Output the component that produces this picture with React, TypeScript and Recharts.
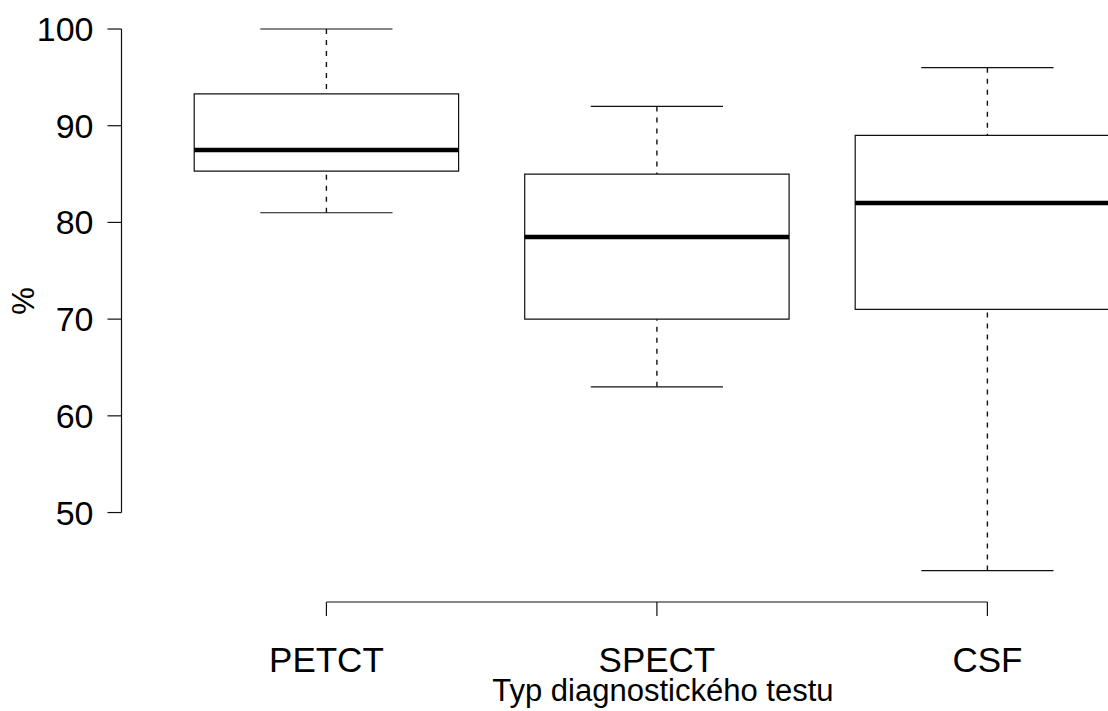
import {
  ComposedChart,
  XAxis,
  YAxis,
  ReferenceArea,
  ReferenceLine,
} from "recharts";

const FONT = "'Liberation Sans', Arial, Helvetica, sans-serif";
const INK = "#111";

// boxplot stats
const categories = ["PETCT", "SPECT", "CSF"];
const whiskerLow = [81, 63, 44];
const quartile1 = [85.3, 70, 71];
const medians = [87.5, 78.5, 82];
const quartile3 = [93.3, 85, 89];
const whiskerHigh = [100, 92, 96];

const yTicks = [50, 60, 70, 80, 90, 100];
const xTicks = [1, 2, 3];

const Y_DOMAIN: [number, number] = [40.75, 103];
const X_DOMAIN: [number, number] = [0.38, 3.62];
const BOX_HALF = 0.4;
const CAP_HALF = 0.2;

const boxes = categories.map((name, i) => ({
  x: i + 1,
  name,
  min: whiskerLow[i],
  q1: quartile1[i],
  median: medians[i],
  q3: quartile3[i],
  max: whiskerHigh[i],
}));

const PercentLabel = (props: any) => {
  const vb = props.viewBox || { x: 0, y: 0, width: 121, height: 602 };
  const cx = vb.x + 23;
  const cy = vb.y + vb.height / 2;
  return (
    <text
      x={cx}
      y={cy}
      transform={`rotate(-90, ${cx}, ${cy})`}
      textAnchor="middle"
      dominantBaseline="central"
      fontSize={31}
      fontFamily={FONT}
      fill="#000"
    >
      %
    </text>
  );
};

const XTitle = (props: any) => {
  const vb = props.viewBox || { x: 121.5, y: 602, width: 1071, height: 109 };
  return (
    <text
      x={vb.x + vb.width / 2 + 6}
      y={vb.y + vb.height - 10.5}
      textAnchor="middle"
      fontSize={31}
      fontFamily={FONT}
      fill="#000"
    >
      Typ diagnostického testu
    </text>
  );
};

export default function App() {
  return (
    <div
      style={{
        position: "absolute",
        left: 0,
        top: 0,
        width: 1108,
        height: 711,
        overflow: "hidden",
        background: "#fff",
      }}
    >
      <ComposedChart
        width={1200}
        height={711}
        data={boxes}
        margin={{ top: 0, right: 7.7, left: 0.5, bottom: 0 }}
      >
        <XAxis
          dataKey="x"
          type="number"
          domain={X_DOMAIN}
          ticks={xTicks}
          interval={0}
          allowDataOverflow
          axisLine={false}
          tickLine={{ stroke: INK, strokeWidth: 1.2 }}
          tickSize={14}
          tickMargin={31}
          height={109}
          tickFormatter={(v: number) => categories[v - 1] ?? ""}
          tick={{ fontSize: 35, fill: "#000", fontFamily: FONT }}
          label={<XTitle />}
        />
        <YAxis
          type="number"
          domain={Y_DOMAIN}
          ticks={yTicks}
          interval={0}
          allowDataOverflow
          width={121}
          axisLine={false}
          tickLine={{ stroke: INK, strokeWidth: 1.2 }}
          tickSize={14}
          tickMargin={14}
          tick={{ fontSize: 34, fill: "#000", fontFamily: FONT }}
          label={<PercentLabel />}
        />

        {/* R style axis lines: only span first to last tick */}
        <ReferenceLine
          segment={[
            { x: X_DOMAIN[0], y: yTicks[0] },
            { x: X_DOMAIN[0], y: yTicks[yTicks.length - 1] },
          ]}
          stroke={INK}
          strokeWidth={1.2}
          ifOverflow="visible"
        />
        <ReferenceLine
          segment={[
            { x: xTicks[0], y: Y_DOMAIN[0] },
            { x: xTicks[xTicks.length - 1], y: Y_DOMAIN[0] },
          ]}
          stroke={INK}
          strokeWidth={1.2}
          ifOverflow="visible"
        />

        {/* whiskers (dashed) and staples */}
        {boxes.map((b) => [
          <ReferenceLine
            key={`wu-${b.name}`}
            segment={[
              { x: b.x, y: b.max },
              { x: b.x, y: b.q3 },
            ]}
            stroke={INK}
            strokeWidth={1.4}
            strokeDasharray="5 6"
            ifOverflow="visible"
          />,
          <ReferenceLine
            key={`wl-${b.name}`}
            segment={[
              { x: b.x, y: b.min },
              { x: b.x, y: b.q1 },
            ]}
            stroke={INK}
            strokeWidth={1.4}
            strokeDasharray="5 6"
            ifOverflow="visible"
          />,
          <ReferenceLine
            key={`cu-${b.name}`}
            segment={[
              { x: b.x - CAP_HALF, y: b.max },
              { x: b.x + CAP_HALF, y: b.max },
            ]}
            stroke={INK}
            strokeWidth={1.2}
            ifOverflow="visible"
          />,
          <ReferenceLine
            key={`cl-${b.name}`}
            segment={[
              { x: b.x - CAP_HALF, y: b.min },
              { x: b.x + CAP_HALF, y: b.min },
            ]}
            stroke={INK}
            strokeWidth={1.2}
            ifOverflow="visible"
          />,
        ])}

        {/* boxes */}
        {boxes.map((b) => (
          <ReferenceArea
            key={`box-${b.name}`}
            x1={b.x - BOX_HALF}
            x2={b.x + BOX_HALF}
            y1={b.q1}
            y2={b.q3}
            fill="#fff"
            fillOpacity={1}
            stroke={INK}
            strokeWidth={1.2}
            ifOverflow="visible"
          />
        ))}

        {/* medians */}
        {boxes.map((b) => (
          <ReferenceLine
            key={`med-${b.name}`}
            segment={[
              { x: b.x - BOX_HALF, y: b.median },
              { x: b.x + BOX_HALF, y: b.median },
            ]}
            stroke="#000"
            strokeWidth={4.5}
            ifOverflow="visible"
          />
        ))}
      </ComposedChart>
    </div>
  );
}
